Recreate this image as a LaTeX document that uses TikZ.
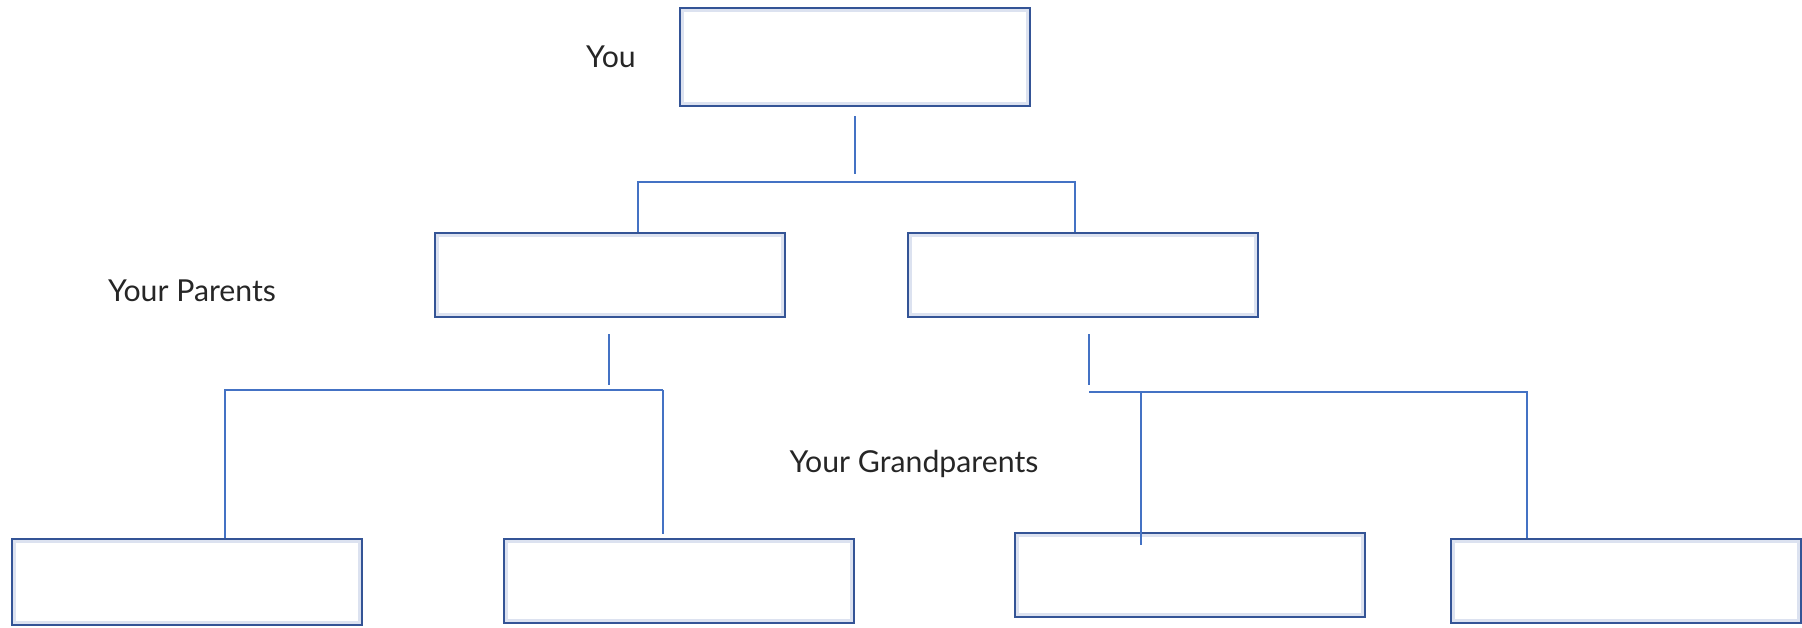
\documentclass[tikz,border=0pt]{standalone}
\usepackage{fontspec}
\setmainfont{Lato}
\definecolor{boxblue}{RGB}{52,84,150}
\definecolor{boxglow}{RGB}{220,226,240}
\definecolor{linkblue}{RGB}{68,114,196}
\tikzset{
  famcell/.style={draw=boxblue, line width=0.7pt, fill=white, minimum width=3.5cm, minimum height=0.84cm, inner sep=0pt,
    path picture={\draw[boxglow, line width=2.2pt] (path picture bounding box.south west) rectangle (path picture bounding box.north east);}},
  link/.style={draw=linkblue, line width=0.6pt},
  tag/.style={font=\fontsize{8.6}{10}\selectfont, text=black!85, inner sep=0pt}
}
\begin{document}
\begin{tikzpicture}[x=0.01cm, y=-0.01cm]
    \useasboundingbox (0,0) rectangle (1802,628);

    % boxes
    \node[famcell, minimum height=0.98cm] (you) at (855,57) {};
    \node[famcell] (parL) at (610,275) {};
    \node[famcell] (parR) at (1083,275) {};
    \node[famcell, minimum height=0.86cm] (gpA) at (187,582) {};
    \node[famcell] (gpB) at (679,581) {};
    \node[famcell] (gpC) at (1190,575) {};
    \node[famcell] (gpD) at (1626,581) {};

    % labels
    \node[tag] (youtag) at (611,57) {You};
    \node[tag] (partag) at (192,291) {Your Parents};
    \node[tag] (gptag) at (914,464) {Your Grandparents};

    % you -> parents
    \coordinate (youstem) at (855,174);
    \coordinate (pa) at (638,182);
    \coordinate (pb) at (1075,182);
    \draw[link, shorten <=0.09cm] (you.south) -- (youstem);
    \draw[link] (parL.north -| pa) -- (pa) -- (pb) -- (parR.north -| pb);

    % left parent -> grandparents
    \coordinate (lstem) at (609,385);
    \coordinate (la) at (225,390);
    \coordinate (lb) at (663,390);
    \draw[link, shorten <=0.16cm] (parL.south -| lstem) -- (lstem);
    \draw[link] (gpA.north -| la) -- (la) -- (lb);
    \draw[link, shorten >=0.04cm] (lb) -- (gpB.north -| lb);

    % right parent -> grandparents
    \coordinate (rstem) at (1089,385);
    \coordinate (ra) at (1089,392);
    \coordinate (rb) at (1527,392);
    \coordinate (rc) at (1141,392);
    \draw[link, shorten <=0.16cm] (parR.south -| rstem) -- (rstem);
    \draw[link] (ra) -- (rb) -- (gpD.north -| rb);
    \draw[link, shorten >=-0.13cm] (rc) -- (gpC.north -| rc);
\end{tikzpicture}
\end{document}
